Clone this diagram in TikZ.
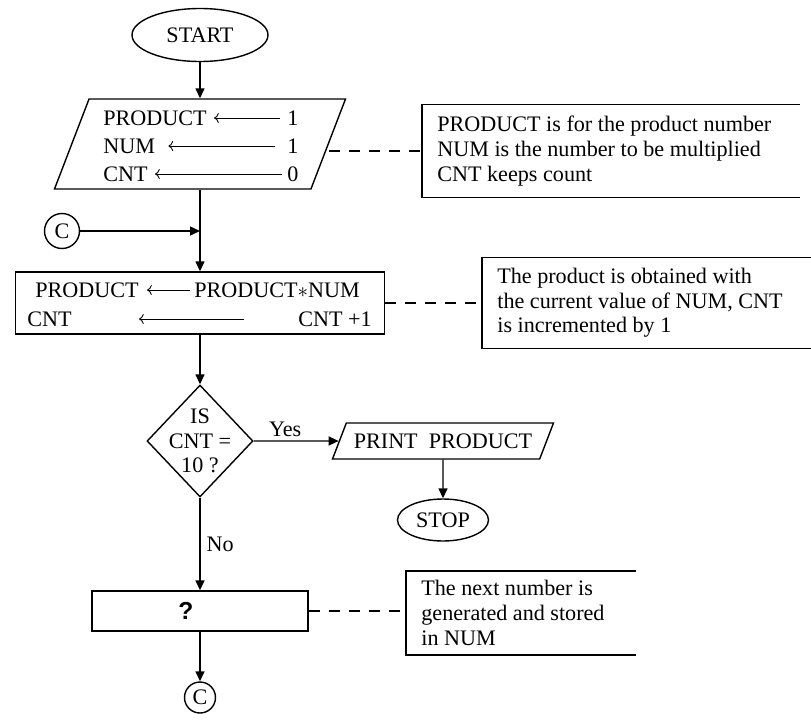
\documentclass[tikz,border=0pt]{standalone}
\usepackage{fontspec}
\setmainfont{Liberation Serif}
\newfontfamily\qfont{Liberation Sans}
\usetikzlibrary{shapes.geometric,arrows.meta}

\begin{document}
\begin{tikzpicture}[
    every node/.style={font=\fontsize{12.6}{14}\selectfont},
    arrow/.style={line width=0.8pt, -{Triangle[length=0.2cm,width=0.18cm]}},
    inarrow/.style={line width=0.5pt, ->},
    link/.style={line width=0.6pt, dash pattern=on 6.3pt off 5.1pt},
    terminal/.style={draw, line width=0.8pt, ellipse, inner sep=1pt},
    iobox/.style={draw, line width=0.8pt, trapezium, trapezium left angle=69,
        trapezium right angle=111, trapezium stretches body, inner sep=0pt},
    process/.style={draw, line width=0.8pt, rectangle},
    decision/.style={draw, line width=0.8pt, diamond, inner sep=0pt},
    connector/.style={draw, line width=0.8pt, circle, inner sep=0pt},
    notebox/.style={anchor=west, align=left, inner xsep=0.3cm},
    cell/.style={anchor=west, inner sep=0pt}
]
\useasboundingbox (-4,0) rectangle (12.22,-14.4);

% Nodes
\node[terminal, minimum width=2.72cm, minimum height=1.06cm] (start) at (0,-0.7) {START};
\node[iobox, minimum width=5.82cm, text height=0.9cm, text depth=0.9cm] (init) at (0,-2.88) {};
\node[connector, minimum size=0.7cm] (c1) at (-2.76,-4.62) {C};
\node[process, minimum width=7.38cm, minimum height=1.24cm] (proc) at (0,-6.06) {};
\node[decision, minimum width=2.12cm, minimum height=2.24cm] (dec) at (0,-8.82) {};
\node[align=center] (dectxt) at (dec) {IS\\CNT =\\10 ?};
\node[iobox, minimum width=4.42cm, text height=0.51cm, text depth=0.21cm] (out) at (4.86,-8.82) {PRINT\ \ PRODUCT};
\node[terminal, minimum width=1.82cm, minimum height=0.84cm] (stop) at (4.86,-10.4) {STOP};
\node[process, minimum width=4.32cm, minimum height=0.8cm] (ask) at (0,-12.22)
    {{\qfont\bfseries\fontsize{14}{16}\selectfont ?}\kern0.56cm};
\node[connector, minimum size=0.62cm] (c2) at (0,-13.95) {C};

% Assignments inside the input box
\node[cell] (in1) at (-1.94,-2.36) {PRODUCT};
\node[cell] (iv1) at (1.74,-2.36) {1};
\node[cell] (in2) at (-1.94,-2.92) {NUM};
\node[cell] (iv2) at (1.74,-2.92) {1};
\node[cell] (in3) at (-1.94,-3.48) {CNT};
\node[cell] (iv3) at (1.74,-3.48) {0};

\draw[inarrow, shorten <=0.14cm, shorten >=0.14cm] (iv1.west) -- (in1.east);
\draw[inarrow, shorten <=0.24cm, shorten >=0.26cm] (iv2.west) -- (in2.east);
\draw[inarrow, shorten <=0.1cm, shorten >=0.14cm] (iv3.west) -- (in3.east);

% Assignments inside the process box
\node[cell] (pn1) at (-3.3,-5.8) {PRODUCT};
\node[cell] (pv1) at (-0.12,-5.8) {PRODUCT$\ast$NUM};
\node[cell] (pn2) at (-3.46,-6.38) {CNT};
\node[cell] (pv2) at (1.96,-6.38) {CNT +1};

\draw[inarrow, shorten <=0.08cm, shorten >=0.16cm] (pv1.west) -- (pn1.east);
\draw[inarrow, shorten <=1.08cm, shorten >=1.34cm] (pv2.west) -- (pn2.east);

% Notes (open on the right)
\node[notebox, minimum height=1.84cm] (note1) at (4.44,-3.02)
    {PRODUCT is for the product number\\NUM is the number to be multiplied\\CNT keeps count};
\node[notebox, minimum height=1.8cm] (note2) at (5.64,-6.06)
    {The product is obtained with\\the current value of NUM, CNT\\is incremented by 1};
\node[notebox, minimum height=1.66cm] (note3) at (4.12,-12.26)
    {The next number is\\generated and stored\\in NUM};

\foreach \n/\r in {note1/12, note2/12.22, note3/8.72}
    \draw[line width=0.8pt] (\n.north west -| \r,0) -- (\n.north west) -- (\n.south west) -- (\n.south west -| \r,0);

% Flow
\draw[arrow] (start) -- (init);
\draw[arrow] (init) -- (proc);
\draw[arrow] (c1) -- (c1 -| init.south);
\draw[arrow] (proc) -- (dec);
\draw[arrow] (dec) -- (out)
    node[pos=0.37, above, inner sep=2pt] {Yes};
\draw[arrow] (out) -- (stop);
\draw[arrow] (dec) -- (ask)
    node[midway, right] {No};
\draw[arrow] (ask) -- (c2);

% Dashed links to the notes
\draw[link] (note1.west -| init.east) -- (note1.west);
\draw[link] (proc.east) -- (note2.west);
\draw[link] (ask.east) -- (ask.east -| note3.west);

\end{tikzpicture}
\end{document}
